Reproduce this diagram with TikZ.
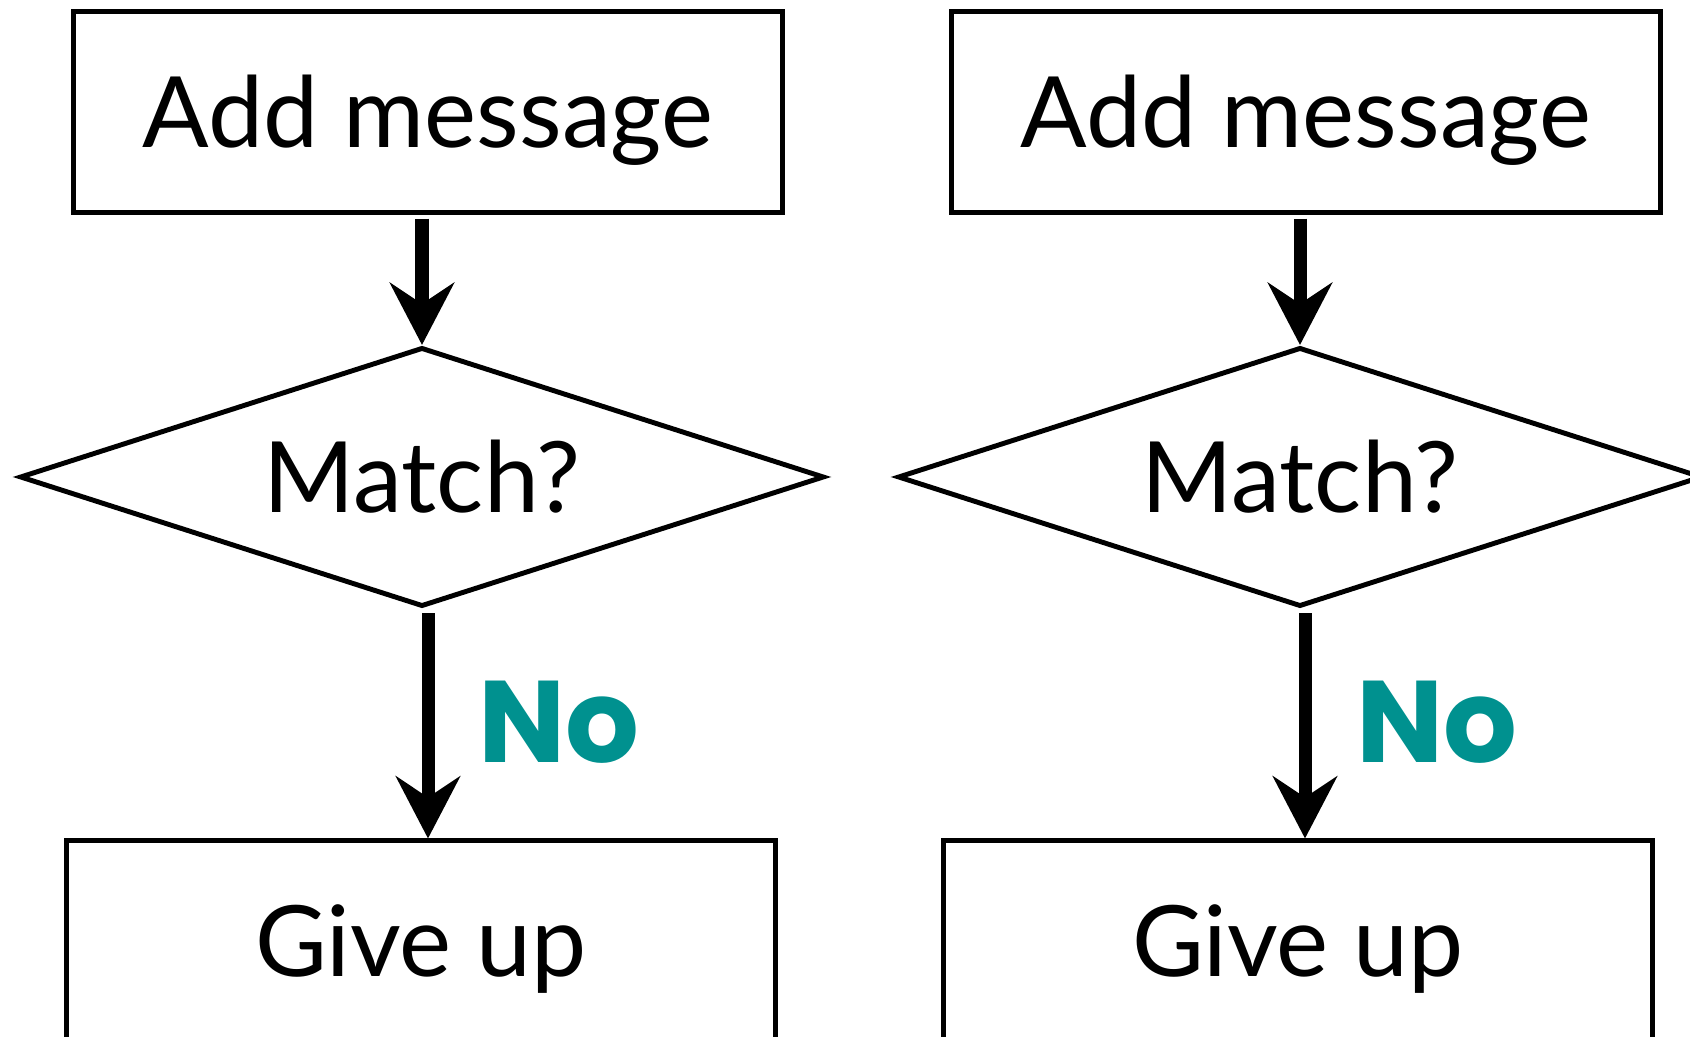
\documentclass[tikz,border=0pt]{standalone}
\usepackage{fontspec}
\setmainfont{Lato}
\newfontfamily\nofont{Poppins}
\usepackage{xcolor}
\usetikzlibrary{arrows.meta,shapes.geometric}
\definecolor{ink}{HTML}{000000}
\definecolor{noteal}{HTML}{00918F}
\tikzset{
  stepbox/.style={draw=ink,fill=white,line width=1.4pt,
                  minimum width=7.08cm,minimum height=2.0cm,inner sep=0pt,
                  font=\fontsize{28}{33}\selectfont,
                  text height=20.2pt,text depth=0pt},
  decision/.style={diamond,draw=ink,fill=white,line width=1.4pt,
                   aspect=3.1,minimum width=8.04cm,minimum height=2.59cm,
                   inner sep=0pt,font=\fontsize{28}{33}\selectfont,
                   text height=20.2pt,text depth=0pt},
  flowarr/.style={-{Stealth[length=0.62cm,width=0.64cm,inset=0.21cm]},
                  line width=3.7pt,draw=ink,shorten <=1.2pt},
  nolabel/.style={font=\nofont\bfseries\fontsize{33}{39}\selectfont,
                  text=noteal,anchor=west,inner sep=0pt,
                  text height=23.1pt,text depth=0pt}
}
\begin{document}
\begin{tikzpicture}[x=0.01cm,y=-0.01cm]
    \path[use as bounding box] (0,0) rectangle (1690,1037);
    % left flow
    \node[stepbox] (add1) at (428,112) {Add message};
    \node[decision] (match1) at (422,477) {Match?};
    \node[stepbox] (giveup1) at (421,941) {Give up};
    \draw[flowarr] (add1.south -| match1.north) -- (match1.north);
    \draw[flowarr] ([xshift=0.06cm]match1.south)
      -- ([xshift=0.06cm]match1.south |- giveup1.north);
    \node[nolabel] (no1) at (478,722) {No};

    % right flow
    \node[stepbox] (add2) at (1306,112) {Add message};
    \node[decision] (match2) at (1300,477) {Match?};
    \node[stepbox] (giveup2) at (1298,941) {Give up};
    \draw[flowarr] (add2.south -| match2.north) -- (match2.north);
    \draw[flowarr] ([xshift=0.05cm]match2.south)
      -- ([xshift=0.05cm]match2.south |- giveup2.north);
    \node[nolabel] (no2) at (1356,722) {No};
  \end{tikzpicture}
\end{document}
